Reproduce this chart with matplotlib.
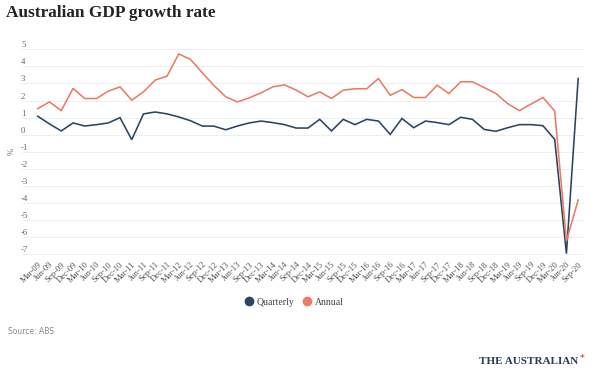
import matplotlib
matplotlib.use("Agg")
import matplotlib.pyplot as plt
from matplotlib.lines import Line2D
from matplotlib.transforms import blended_transform_factory, offset_copy

quarters = ["Mar-09", "Jun-09", "Sep-09", "Dec-09", "Mar-10", "Jun-10", "Sep-10", "Dec-10",
            "Mar-11", "Jun-11", "Sep-11", "Dec-11", "Mar-12", "Jun-12", "Sep-12", "Dec-12",
            "Mar-13", "Jun-13", "Sep-13", "Dec-13", "Mar-14", "Jun-14", "Sep-14", "Dec-14",
            "Mar-15", "Jun-15", "Sep-15", "Dec-15", "Mar-16", "Jun-16", "Sep-16", "Dec-16",
            "Mar-17", "Jun-17", "Sep-17", "Dec-17", "Mar-18", "Jun-18", "Sep-18", "Dec-18",
            "Mar-19", "Jun-19", "Sep-19", "Dec-19", "Mar-20", "Jun-20", "Sep-20"]

quarterly = [1.08, 0.63, 0.22, 0.69, 0.51, 0.59, 0.69, 1.00,
             -0.29, 1.22, 1.33, 1.22, 1.04, 0.82, 0.51, 0.50,
             0.29, 0.51, 0.69, 0.80, 0.71, 0.59, 0.39, 0.39,
             0.90, 0.22, 0.90, 0.59, 0.90, 0.80, 0.02, 0.95,
             0.41, 0.80, 0.71, 0.59, 1.02, 0.90, 0.31, 0.20,
             0.41, 0.59, 0.59, 0.53, -0.27, -6.96, 3.29]

annual = [1.53, 1.92, 1.41, 2.71, 2.12, 2.12, 2.55, 2.80,
          2.02, 2.51, 3.20, 3.43, 4.73, 4.41, 3.63, 2.88,
          2.22, 1.92, 2.16, 2.45, 2.80, 2.92, 2.61, 2.22,
          2.51, 2.12, 2.61, 2.69, 2.69, 3.29, 2.31, 2.64,
          2.18, 2.18, 2.90, 2.41, 3.10, 3.10, 2.76, 2.41,
          1.82, 1.41, 1.80, 2.18, 1.39, -6.22, -3.82]

yticks = [5, 4, 3, 2, 1, 0, -1, -2, -3, -4, -5, -6, -7]

navy = "#2a4562"
salmon = "#ec7b65"
grey = "#666666"

fig = plt.figure(figsize=(5.97, 3.72), dpi=100)
ax = fig.add_axes([0.0369, 0.3073, 0.9414, 0.5693])

x = list(range(len(quarters)))
ax.plot(x, quarterly, color=navy, lw=1.15, solid_joinstyle="miter", zorder=3)
ax.plot(x, annual, color=salmon, lw=1.15, solid_joinstyle="miter", zorder=3)

ax.set_xlim(-1.34, 46.5)
ax.set_ylim(-7.2, 5.2)

for v in yticks:
    ax.axhline(v, color="#dadada", lw=0.6, ls=(0, (1, 1)), zorder=1)

trans = blended_transform_factory(ax.transAxes, ax.transData)
trans = offset_copy(trans, fig=fig, x=-1, y=2, units="dots")
for v in yticks:
    ax.text(0, v, str(v), transform=trans, ha="left", va="baseline",
            fontsize=6.3, color=grey, family="Liberation Serif")

ax.set_yticks([])
ax.set_xticks(x)
ax.set_xticklabels(quarters, rotation=45, ha="right", va="top",
                   rotation_mode="anchor", fontsize=6.2, color="#555555",
                   family="Liberation Serif")
ax.tick_params(axis="x", length=0, pad=2)
for s in ax.spines.values():
    s.set_visible(False)

fig.text(0.02, 0.592, "%", rotation=90, ha="center", va="center",
         fontsize=6.3, color=grey, family="Liberation Serif")

fig.text(0.01, 0.965, "Australian GDP growth rate", ha="left", va="center",
         fontsize=12.4, fontweight="bold", color="#222222", family="Liberation Serif")

handles = [Line2D([], [], marker="o", ls="none", markersize=7, color=navy, markeredgewidth=0),
           Line2D([], [], marker="o", ls="none", markersize=7, color=salmon, markeredgewidth=0)]
fig.legend(handles, ["Quarterly", "Annual"], loc="center", bbox_to_anchor=(0.493, 0.188),
           ncol=2, frameon=False, handletextpad=0.3, columnspacing=0.8, handlelength=1.0,
           prop={"family": "Liberation Serif", "size": 7}, labelcolor="#444444")

fig.text(0.013, 0.108, "Source: ABS", ha="left", va="center", fontsize=5.5,
         color="#888888", family="DejaVu Sans")

fig.text(0.802, 0.028, "THE AUSTRALIAN", ha="left", va="center", fontsize=8,
         fontweight="bold", color="#2b3a55", family="Liberation Serif")
fig.text(0.972, 0.036, "*", ha="left", va="center", fontsize=6.5,
         fontweight="bold", color="#e05a40", family="DejaVu Sans")

fig.savefig("out.png", dpi=100)
